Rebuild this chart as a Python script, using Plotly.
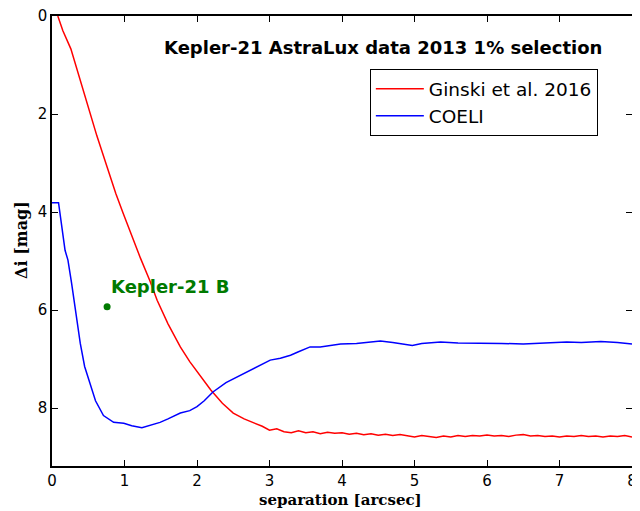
import plotly.graph_objects as go

# Ginski et al. 2016 contrast curve
red_x = [0.08, 0.15, 0.26, 0.40, 0.52, 0.62, 0.76, 0.88, 0.98, 1.10, 1.22, 1.35, 1.45, 1.60,
         1.77, 1.90, 2.05, 2.19, 2.35, 2.50, 2.65, 2.80, 2.90, 3.00, 3.10, 3.20, 3.30, 3.40,
         3.50, 3.60, 3.70, 3.80, 3.90, 4.00, 4.10, 4.20, 4.30, 4.40, 4.50, 4.60, 4.70, 4.80,
         4.90, 5.00, 5.10, 5.20, 5.30, 5.40, 5.50, 5.60, 5.70, 5.80, 5.90, 6.00, 6.10, 6.20,
         6.30, 6.40, 6.50, 6.60, 6.70, 6.80, 6.90, 7.00, 7.10, 7.20, 7.30, 7.40, 7.50, 7.60,
         7.70, 7.80, 7.90, 8.00]
red_y = [0.00, 0.30, 0.67, 1.35, 1.98, 2.45, 3.08, 3.62, 4.02, 4.50, 4.94, 5.40, 5.80, 6.28,
         6.75, 7.05, 7.35, 7.63, 7.90, 8.10, 8.22, 8.31, 8.37, 8.45, 8.42, 8.48, 8.50, 8.46,
         8.50, 8.48, 8.52, 8.49, 8.51, 8.50, 8.53, 8.51, 8.54, 8.52, 8.55, 8.53, 8.56, 8.54,
         8.57, 8.59, 8.56, 8.58, 8.60, 8.57, 8.59, 8.56, 8.58, 8.56, 8.57, 8.55, 8.57, 8.56,
         8.58, 8.55, 8.54, 8.57, 8.56, 8.58, 8.57, 8.59, 8.57, 8.58, 8.56, 8.58, 8.57, 8.59,
         8.57, 8.58, 8.56, 8.59]

# COELI contrast curve
blue_x = [0.00, 0.09, 0.18, 0.22, 0.27, 0.33, 0.39, 0.45, 0.52, 0.60, 0.71, 0.85, 0.99, 1.10,
          1.24, 1.35, 1.49, 1.60, 1.77, 1.90, 2.00, 2.10, 2.22, 2.40, 2.60, 2.80, 3.01, 3.15,
          3.29, 3.40, 3.56, 3.70, 3.85, 3.98, 4.20, 4.40, 4.53, 4.70, 4.85, 4.97, 5.10, 5.36,
          5.60, 5.91, 6.20, 6.50, 6.74, 6.90, 7.10, 7.30, 7.57, 7.80, 8.00]
blue_y = [3.81, 3.81, 4.78, 4.98, 5.45, 6.10, 6.68, 7.15, 7.50, 7.85, 8.15, 8.29, 8.31, 8.36,
          8.40, 8.35, 8.29, 8.22, 8.10, 8.05, 7.97, 7.85, 7.67, 7.48, 7.33, 7.18, 7.02, 6.98,
          6.92, 6.85, 6.75, 6.75, 6.71, 6.69, 6.68, 6.65, 6.63, 6.66, 6.69, 6.72, 6.68, 6.65,
          6.67, 6.67, 6.68, 6.69, 6.68, 6.67, 6.65, 6.66, 6.64, 6.66, 6.69]

# Companion
comp_x = [0.76]
comp_y = [5.93]
comp_label = "Kepler-21 B"

title_text = "Kepler-21 AstraLux data 2013 1% selection"
x_ticks = [0, 1, 2, 3, 4, 5, 6, 7, 8]
y_ticks = [0, 2, 4, 6, 8]

fig = go.Figure()
fig.add_trace(go.Scatter(x=red_x, y=red_y, mode="lines", name="Ginski et al. 2016",
                         line=dict(color="#ff0000", width=1.5)))
fig.add_trace(go.Scatter(x=blue_x, y=blue_y, mode="lines", name="COELI",
                         line=dict(color="#0000ff", width=1.5)))
fig.add_trace(go.Scatter(x=comp_x, y=comp_y, mode="markers", showlegend=False,
                         marker=dict(color="#007a00", size=7, symbol="circle")))

fig.add_annotation(x=comp_x[0] + 0.03, y=comp_y[0] - 0.16, text="<b>" + comp_label + "</b>",
                   showarrow=False, xanchor="left", yanchor="bottom",
                   font=dict(family="DejaVu Sans", size=18, color="#007a00"))

fig.add_annotation(xref="paper", yref="paper", x=0.952, y=0.931, text="<b>" + title_text + "</b>",
                   showarrow=False, xanchor="right", yanchor="middle",
                   font=dict(family="DejaVu Sans", size=18, color="black"))

fig.add_annotation(xref="paper", yref="paper", x=-0.053, y=0.503, text="<b>Δi [mag]</b>",
                   showarrow=False, textangle=-90, xanchor="center", yanchor="middle",
                   font=dict(family="DejaVu Serif", size=16, color="black"))
fig.add_annotation(xref="paper", yref="paper", x=0.497, y=-0.1, text="<b>separation [arcsec]</b>",
                   showarrow=False, xanchor="center", yanchor="bottom",
                   font=dict(family="DejaVu Serif", size=15, color="black"))

axis_common = dict(showline=True, linecolor="black", linewidth=1.5, mirror="ticks",
                   ticks="inside", ticklen=6, tickcolor="black", tickwidth=1,
                   showgrid=False, zeroline=False, automargin=False,
                   ticklabeloverflow="allow",
                   tickfont=dict(family="DejaVu Sans", size=15, color="black"))

fig.update_layout(
    width=632, height=503,
    margin=dict(l=44, r=8, t=8, b=45),
    paper_bgcolor="white", plot_bgcolor="white",
    xaxis=dict(range=[0, 8], tickvals=x_ticks, **axis_common),
    yaxis=dict(range=[9.18, 0], tickvals=y_ticks, **axis_common),
    legend=dict(x=0.548, y=0.882, xanchor="left", yanchor="top",
                bordercolor="black", borderwidth=1, bgcolor="white",
                font=dict(family="DejaVu Sans", size=18.5, color="black"),
                tracegroupgap=0, itemwidth=48),
    showlegend=True,
)

fig.write_html("out.html")
